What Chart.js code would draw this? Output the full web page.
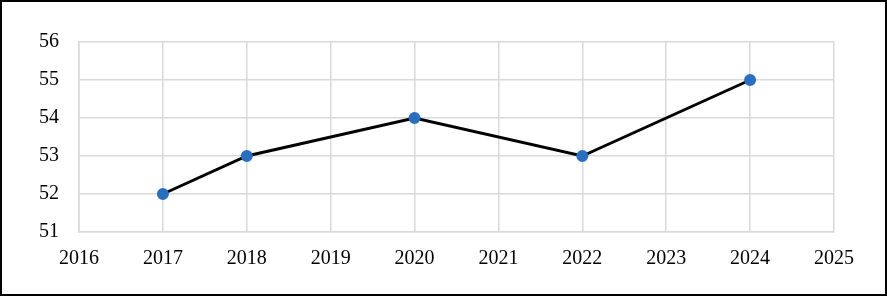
<!DOCTYPE html>
<html>
<head>
<meta charset="utf-8">
<script src="https://cdn.jsdelivr.net/npm/chart.js@4/dist/chart.umd.min.js"></script>
<style>
  html, body { margin: 0; padding: 0; background: #fff; }
  #wrap { width: 887px; height: 296px; }
</style>
</head>
<body>
<div id="wrap"><canvas id="chart" width="887" height="296"></canvas></div>
<script>
// ---- DATA ----
const years = [2017, 2018, 2020, 2022, 2024];
const values = [52, 53, 54, 53, 55];
const xTicks = [2016, 2017, 2018, 2019, 2020, 2021, 2022, 2023, 2024, 2025];
const yTicks = [51, 52, 53, 54, 55, 56];

const FONT = { family: "'Liberation Serif', 'Times New Roman', serif", size: 20 };

// outer black frame around the whole picture
const framePlugin = {
  id: "frame",
  afterDraw(chart) {
    const ctx = chart.ctx;
    ctx.save();
    ctx.strokeStyle = "#000";
    ctx.lineWidth = 2;
    ctx.strokeRect(1, 1, chart.width - 2, chart.height - 2);
    ctx.restore();
  }
};

new Chart(document.getElementById("chart").getContext("2d"), {
  type: "line",
  data: {
    datasets: [{
      data: years.map((y, i) => ({ x: y, y: values[i] })),
      borderColor: "#000",
      borderWidth: 3,
      pointBackgroundColor: "#2a6fbf",
      pointBorderColor: "#2a6fbf",
      pointRadius: 4.5,
      tension: 0
    }]
  },
  options: {
    responsive: false,
    animation: false,
    layout: { padding: { left: 0, top: 42, right: 53, bottom: 0 } },
    plugins: { legend: { display: false }, tooltip: { enabled: false } },
    scales: {
      x: {
        type: "linear",
        min: 2016,
        max: 2025,
        afterBuildTicks: s => { s.ticks = xTicks.map(v => ({ value: v })); },
        afterFit: s => { s.height = 64; },
        ticks: { color: "#000", font: FONT, padding: 15, callback: v => String(v) },
        grid: { color: "#d9d9d9", lineWidth: 1.5, drawTicks: false },
        border: { color: "#d9d9d9", width: 1.5 }
      },
      y: {
        min: 51,
        max: 56,
        afterBuildTicks: s => { s.ticks = yTicks.map(v => ({ value: v })); },
        afterFit: s => { s.width = 79; },
        ticks: { color: "#000", font: FONT, padding: 20 },
        grid: { color: "#d9d9d9", lineWidth: 1.5, drawTicks: false },
        border: { color: "#d9d9d9", width: 1.5 }
      }
    }
  },
  plugins: [framePlugin]
});
</script>
</body>
</html>
